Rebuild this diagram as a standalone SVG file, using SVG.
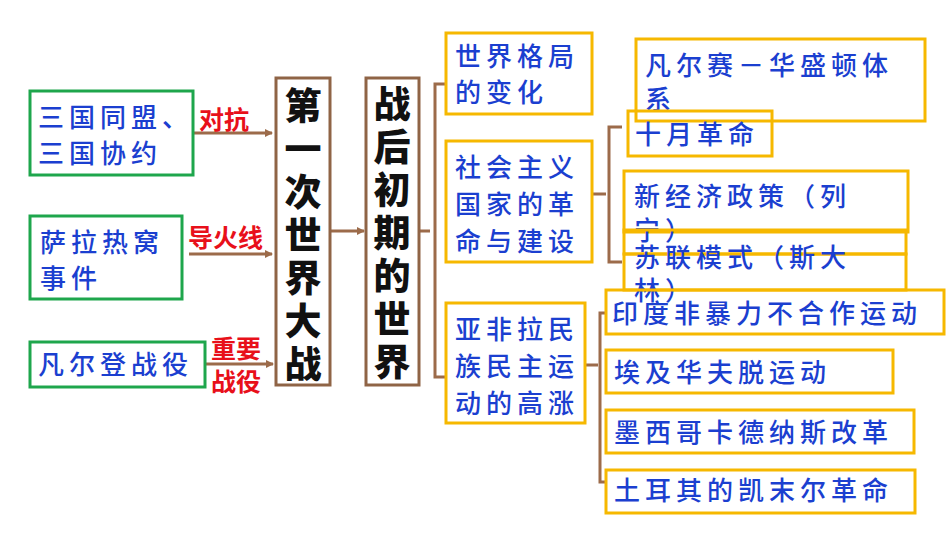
<svg xmlns="http://www.w3.org/2000/svg" width="950" height="535" viewBox="0 0 950 535">
<defs>
<style>
.g{fill:#fff;stroke:#1ea64c;stroke-width:3}
.y{fill:none;stroke:#f6b800;stroke-width:3}
.b{fill:#fff;stroke:#8f6446;stroke-width:3}
.t{font-family:"Noto Sans CJK SC",sans-serif;font-size:26px;fill:#1b3fd0;letter-spacing:5px;font-weight:500}
.r{font-family:"Noto Sans CJK SC",sans-serif;font-size:25px;fill:#e8101a;font-weight:700}
.k{font-family:"Noto Sans CJK SC",sans-serif;font-size:37px;fill:#111;font-weight:900;text-anchor:middle}
.c{fill:none;stroke:#9c6b4a;stroke-width:3}
</style>
<marker id="a" markerWidth="8" markerHeight="8" refX="7" refY="4" orient="auto" markerUnits="userSpaceOnUse"><path d="M0,0L8,4L0,8z" fill="#9c6b4a"/></marker>
</defs>
<rect width="950" height="535" fill="#fff"/>
<g id="connectors">
<path class="c" d="M193,133H272" marker-end="url(#a)"/>
<path class="c" d="M189,254H272" marker-end="url(#a)"/>
<path class="c" d="M205,364H273" marker-end="url(#a)"/>
<path class="c" d="M330,231H364" marker-end="url(#a)"/>
<path class="c" d="M420,231H430M445,84H435V377H445M592,194H606M622,127H609V262H622M585,365H598M606,313H600V482H606"/>
</g>
<g id="labels">
<text class="r" x="199" y="129">对抗</text>
<text class="r" x="188" y="247">导火线</text>
<text class="r" x="211" y="358">重要</text>
<text class="r" x="211" y="391">战役</text>
</g>
<g id="n1"><rect class="g" x="30" y="91" width="163" height="84"/><text class="t" x="38" y="127">三国同盟、</text><text class="t" x="38" y="163">三国协约</text></g>
<g id="n2"><rect class="g" x="30" y="216" width="152" height="83"/><text class="t" x="40" y="252">萨拉热窝</text><text class="t" x="40" y="288">事件</text></g>
<g id="n3"><rect class="g" x="30" y="342" width="175" height="45"/><text class="t" x="38" y="374">凡尔登战役</text></g>
<g id="ww1"><rect class="b" x="276" y="78" width="54" height="307"/>
<text class="k" x="303" y="120">第</text><text class="k" x="303" y="163">一</text><text class="k" x="303" y="206">次</text><text class="k" x="303" y="249">世</text><text class="k" x="303" y="292">界</text><text class="k" x="303" y="335">大</text><text class="k" x="303" y="378">战</text></g>
<g id="post"><rect class="b" x="366" y="78" width="53" height="307"/>
<text class="k" x="392" y="118">战</text><text class="k" x="392" y="161">后</text><text class="k" x="392" y="204">初</text><text class="k" x="392" y="247">期</text><text class="k" x="392" y="290">的</text><text class="k" x="392" y="333">世</text><text class="k" x="392" y="376">界</text></g>
<g id="y1"><rect class="y" x="446" y="33" width="146" height="81"/><text class="t" x="455" y="66">世界格局</text><text class="t" x="455" y="102">的变化</text></g>
<g id="y2"><rect class="y" x="446" y="141" width="146" height="121"/><text class="t" x="455" y="177">社会主义</text><text class="t" x="455" y="214">国家的革</text><text class="t" x="455" y="251">命与建设</text></g>
<g id="y3"><rect class="y" x="446" y="303" width="139" height="120"/><text class="t" x="455" y="339">亚非拉民</text><text class="t" x="455" y="376">族民主运</text><text class="t" x="455" y="413">动的高涨</text></g>
<g id="v"><rect class="y" x="636" y="39" width="289" height="82"/><text class="t" x="645" y="75">凡尔赛－华盛顿体</text><text class="t" x="645" y="109">系</text></g>
<g id="oct"><rect class="y" x="628" y="111" width="144" height="45"/><text class="t" x="635" y="144">十月革命</text></g>
<g id="nep"><rect class="y" x="624" y="171" width="284" height="61"/><text class="t" x="634" y="206">新经济政策（列</text><text class="t" x="634" y="240">宁）</text></g>
<g id="sov"><rect class="y" x="624" y="230" width="282" height="24"/><rect class="y" x="624" y="254" width="282" height="36"/><text class="t" x="634" y="267">苏联模式（斯大</text><text class="t" x="634" y="300">林）</text></g>
<g id="ind"><rect class="y" x="606" y="290" width="338" height="44"/><text class="t" x="612" y="323">印度非暴力不合作运动</text></g>
<g id="egy"><rect class="y" x="606" y="350" width="287" height="43"/><text class="t" x="614" y="382">埃及华夫脱运动</text></g>
<g id="mex"><rect class="y" x="606" y="410" width="308" height="43"/><text class="t" x="614" y="442">墨西哥卡德纳斯改革</text></g>
<g id="tur"><rect class="y" x="606" y="470" width="309" height="43"/><text class="t" x="614" y="500">土耳其的凯末尔革命</text></g>
</svg>
